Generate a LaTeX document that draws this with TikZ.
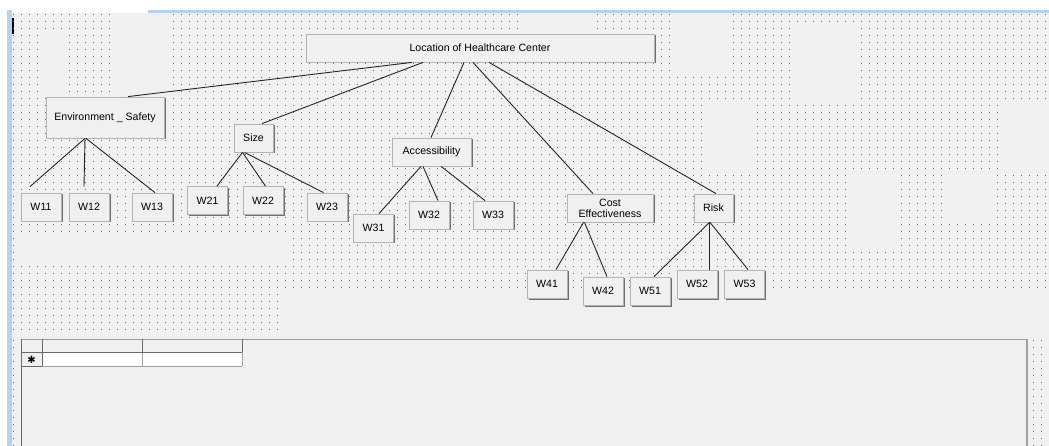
\documentclass[tikz,border=0pt]{standalone}
\usepackage{fontspec}
\setmainfont{Liberation Sans}
\newfontfamily\dejavu{DejaVu Sans}
\usetikzlibrary{shadows}
\definecolor{formbg}{HTML}{F0F0F0}
\definecolor{dotc}{HTML}{707070}
\definecolor{btnedge}{HTML}{B4B4B4}
\definecolor{btnshade}{HTML}{707070}
\definecolor{winblue}{HTML}{B9D1EA}
\definecolor{gridline}{HTML}{A0A0A0}
\definecolor{gridhead}{HTML}{696969}

\begin{document}
\begin{tikzpicture}[x=1pt, y=-1pt,
    btn/.style={draw=btnedge, fill=formbg, line width=0.8, inner sep=0pt,
        minimum width=40, minimum height=28, align=center,
        font=\fontsize{10.6}{11}\selectfont,
        drop shadow={shadow xshift=1.5pt, shadow yshift=-1.5pt, fill=btnshade, opacity=1}},
    wire/.style={line width=0.9, draw=black!85}]
    \useasboundingbox (0,0) rectangle (1049,446);
    % Window
    \fill[white] (0,0) rectangle (1049,446);
    \fill[formbg] (12,13) rectangle (1049,446);
    \fill[winblue] (7,10) rectangle (12,446);
    \fill[winblue] (148,10) rectangle (1049,13);
    \fill[black] (12,18) rectangle (13.5,34);
    % Grid dots
    \foreach \y in {14,21,...,333} {
        \foreach \x in {13,21,...,1045} {
            \fill[dotc] (\x,\y) rectangle +(1,1);
        }
    }
    \foreach \y in {340,347,...,446} {
        \foreach \x in {13,1033,1041} {
            \fill[dotc] (\x,\y) rectangle +(1,1);
        }
    }
    % Patches without dots
    \foreach \a/\b/\c/\d in {38/30/66/92, 110/13/167/92, 520/13/596/32,
        671/13/730/72, 797/28/857/100, 704/100/754/172, 1004/100/1049/172,
        846/174/896/246, 942/174/996/224, 15/232/290/266, 278/294/1049/336} {
        \fill[formbg] (\a,\b) rectangle (\c,\d);
    }
    % Goal
    \node[btn, minimum width=348] (root) at (480,48) {Location of Healthcare Center};
    % Criteria
    \node[btn, minimum width=118, minimum height=41] (env) at (105,117.5) {Environment \_ Safety};
    \node[btn, minimum width=39] (size) at (253.5,138) {Size};
    \node[btn, minimum width=79] (access) at (431.5,152) {Accessibility};
    \node[btn, minimum width=86] (cost) at (610,208) {Cost\\Effectiveness};
    \node[btn, minimum width=39] (risk) at (713.5,208) {Risk};
    % Sub-criteria
    \foreach \n/\t/\x/\y in {w11/W11/41/207, w12/W12/89/207, w13/W13/152/207,
        w21/W21/207.5/200.5, w22/W22/263/200.5, w23/W23/327/207,
        w31/W31/373.5/228, w32/W32/429/215, w33/W33/493/215,
        w41/W41/547/284, w42/W42/603/291,
        w51/W51/650/291, w52/W52/697/284, w53/W53/744.5/284} {
        \node[btn] (\n) at (\x,\y) {\t};
    }
    % Links from the goal
    \draw[wire] ([xshift=-68]root.south) -- ([xshift=23]env.north);
    \draw[wire] ([xshift=-57]root.south) -- ([xshift=8.5]size.north);
    \draw[wire] ([xshift=-16]root.south) -- ([xshift=-0.5]access.north);
    \draw[wire] ([xshift=-7]root.south) -- ([xshift=-17]cost.north);
    \draw[wire] ([xshift=9]root.south) -- ([xshift=2.5]risk.north);
    % Links to the sub-criteria
    \foreach \p/\ps/\c/\cs/\cy in {env/-20/w11/-11/6, env/-20/w12/-5/6, env/-19/w13/3/0,
        size/-11/w21/9.5/0, size/-11/w22/2.5/0, size/-9/w23/-3.5/0,
        access/-10.5/w31/5.5/0, access/-8.5/w32/9/0, access/9.5/w33/-8/0,
        cost/-26.5/w41/9/0, cost/-25.5/w42/4/0,
        risk/-4/w51/4/0, risk/-4/w52/12.5/0, risk/-3.5/w53/3.5/0} {
        \draw[wire] ([xshift=\ps]\p.south) -- ([xshift=\cs, yshift=\cy]\c.north);
    }
    % Data grid
    \fill[formbg] (21,339) rectangle (1027,446);
    \draw[gridline, line width=1] (21,339.5) -- (1027,339.5);
    \draw[gridhead, line width=1.5] (21.5,339) -- (21.5,446);
    \draw[gridline, line width=2] (1027,339) -- (1027,446);
    \fill[white] (42,352) rectangle (242,366);
    \draw[gridline] (42,366) -- (242,366) (142,352) -- (142,366) (242,352) -- (242,366);
    \draw[gridhead, line width=1] (21,352) -- (242,352) (42,339) -- (42,366)
        (142,339) -- (142,352) (242,339) -- (242,352) (21,366) -- (42,366);
    \node[font=\dejavu\fontsize{10}{10}\selectfont, inner sep=0pt] (newrow) at (31.5,359.5) {✱};
\end{tikzpicture}
\end{document}
